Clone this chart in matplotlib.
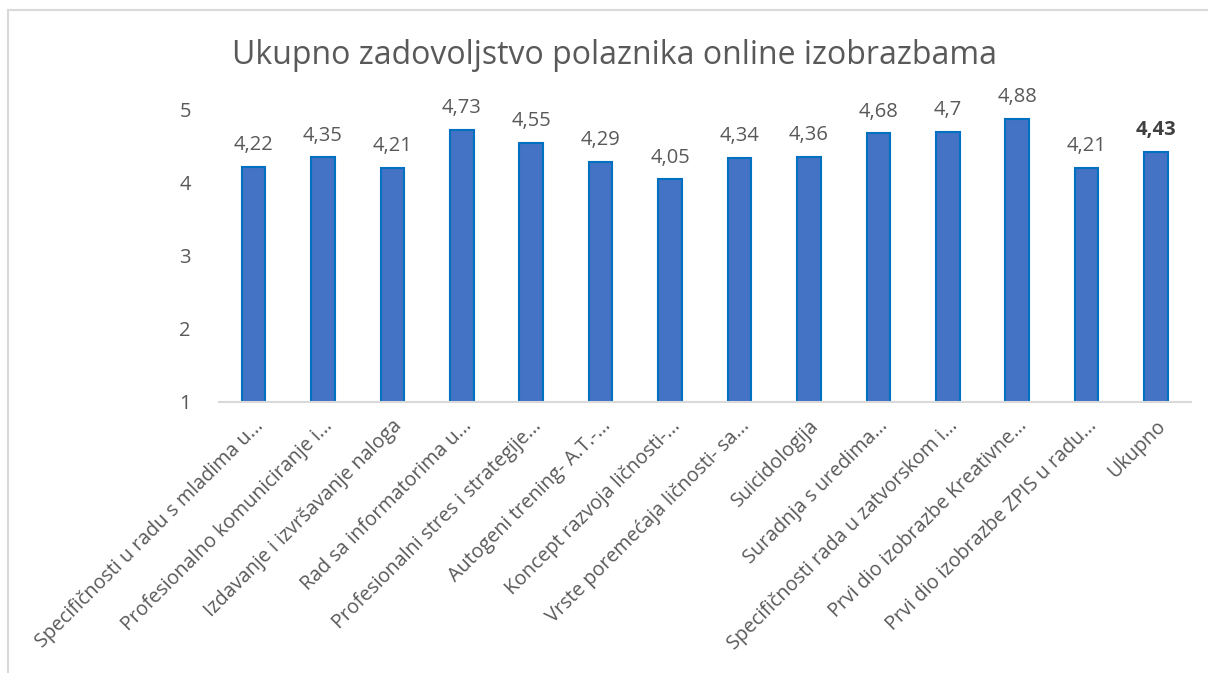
import matplotlib.pyplot as plt
from matplotlib.patches import Rectangle

categories = [
    "Specifičnosti u radu s mladima u...",
    "Profesionalno komuniciranje i...",
    "Izdavanje i izvršavanje naloga",
    "Rad sa informatorima u...",
    "Profesionalni stres i strategije...",
    "Autogeni trening- A.T.-...",
    "Koncept razvoja ličnosti-...",
    "Vrste poremećaja ličnosti- sa...",
    "Suicidologija",
    "Suradnja s uredima...",
    "Specifičnosti rada u zatvorskom i...",
    "Prvi dio izobrazbe Kreativne...",
    "Prvi dio izobrazbe ZPIS u radu...",
    "Ukupno",
]
values = [4.22, 4.35, 4.21, 4.73, 4.55, 4.29, 4.05, 4.34, 4.36, 4.68, 4.70, 4.88, 4.21, 4.43]
labels = ["4,22", "4,35", "4,21", "4,73", "4,55", "4,29", "4,05", "4,34", "4,36", "4,68", "4,7", "4,88", "4,21", "4,43"]
yticks = [1, 2, 3, 4, 5]

plt.rcParams['font.family'] = ['Open Sans', 'DejaVu Sans']
grey = '#595959'

fig = plt.figure(figsize=(12.08, 6.73), dpi=100)
fig.patches.append(Rectangle((8/1208, -0.05), 1.1, 1 - 10/673 + 0.05, transform=fig.transFigure,
                             fill=False, edgecolor='#d9d9d9', linewidth=1.5))
ax = fig.add_axes([0.1811, 0.4027, 0.8046, 0.4339])

x = range(len(values))
ax.bar(x, [v - 1 for v in values], bottom=1, width=0.34, color='#4472C4',
       edgecolor='#0070C0', linewidth=1.5)

for i, (v, lab) in enumerate(zip(values, labels)):
    last = i == len(values) - 1
    ax.text(i, v + 0.16, lab, ha='center', va='bottom', fontsize=14.5,
            color='#404040' if last else grey, fontweight='bold' if last else 'normal',
            clip_on=False)

ax.set_xlim(-0.5, len(values) - 0.5)
ax.set_ylim(1, 5)
ax.set_yticks(yticks)
ax.set_yticklabels([str(t) for t in yticks], fontsize=14.5, color=grey)
ax.set_xticks(list(x))
ax.set_xticklabels(categories, rotation=45, ha='right', rotation_mode='anchor',
                   fontsize=14.2, color=grey)
ax.tick_params(axis='both', length=0)
ax.tick_params(axis='y', pad=20)
ax.tick_params(axis='x', pad=10)
for s in ['top', 'right', 'left']:
    ax.spines[s].set_visible(False)
ax.spines['bottom'].set_color('#d9d9d9')
ax.spines['bottom'].set_linewidth(1.5)

fig.text(0.509, 0.918, "Ukupno zadovoljstvo polaznika online izobrazbama", ha='center', va='center',
         fontsize=23, color=grey)

fig.savefig('out.png', dpi=100)
